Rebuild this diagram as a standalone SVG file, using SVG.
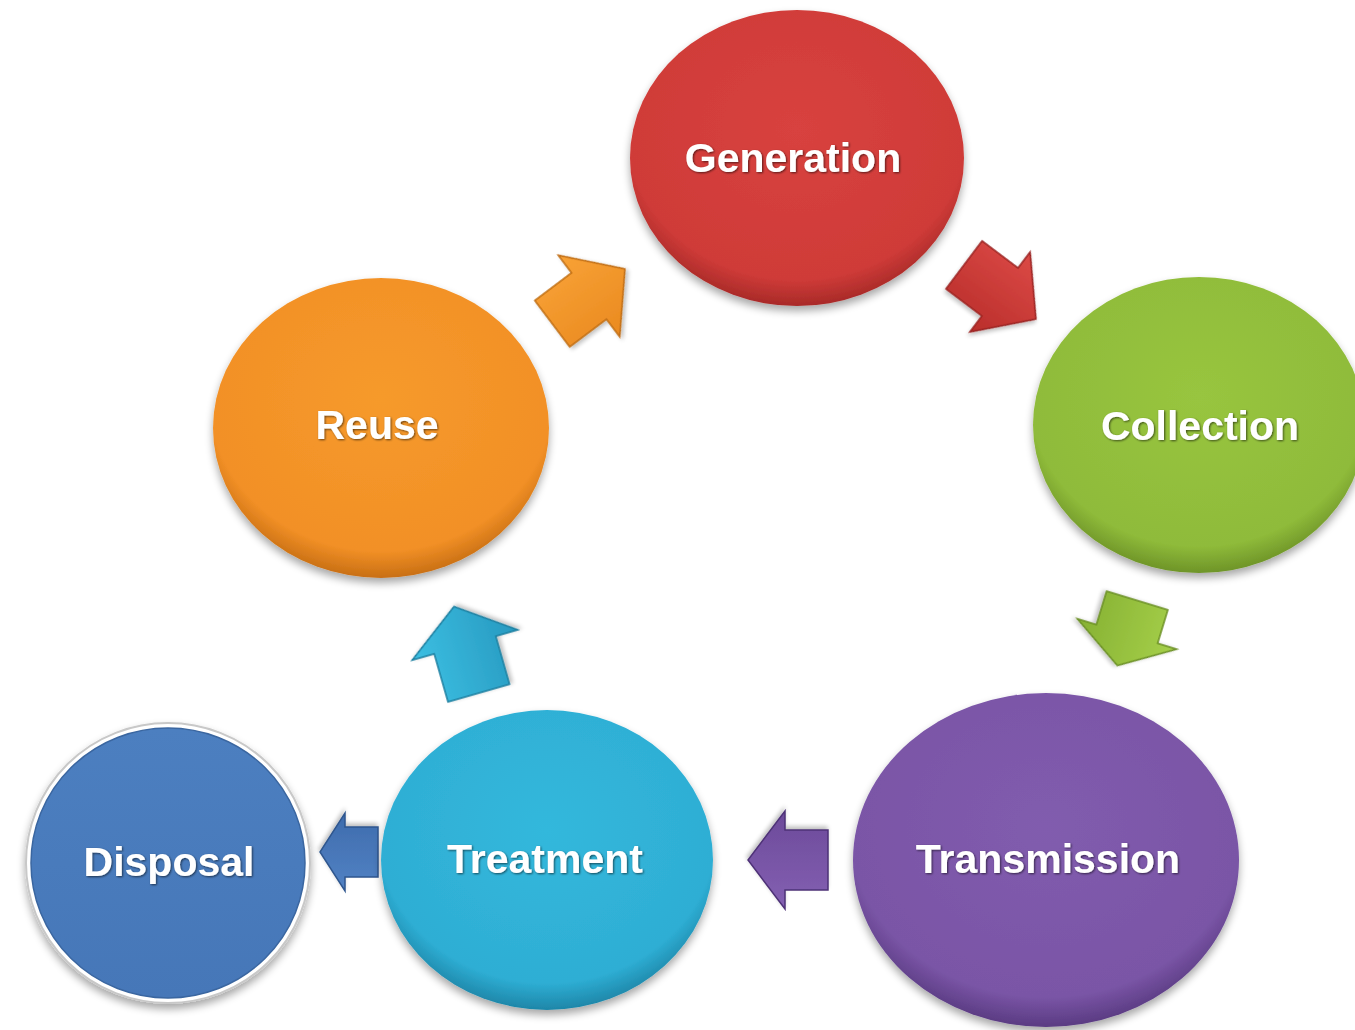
<svg xmlns="http://www.w3.org/2000/svg" width="1355" height="1030" viewBox="0 0 1355 1030">
  <defs>
    <style>
      .lbl { font-family: "Liberation Sans", Arial, sans-serif; font-weight: bold; font-size: 41px; fill: #ffffff; text-anchor: middle; filter: url(#txtShadow); }
      .disc { filter: url(#discShadow); }
      .arrow { stroke-width: 1.5; stroke-linejoin: miter; filter: url(#arrowShadow); }
    </style>
    <filter id="discShadow" x="-10%" y="-10%" width="120%" height="125%">
      <feGaussianBlur in="SourceAlpha" stdDeviation="4"/>
      <feOffset dx="0" dy="5" result="b"/>
      <feComponentTransfer><feFuncA type="linear" slope="0.35"/></feComponentTransfer>
      <feMerge><feMergeNode/><feMergeNode in="SourceGraphic"/></feMerge>
    </filter>
    <filter id="arrowShadow" x="-20%" y="-20%" width="140%" height="140%">
      <feGaussianBlur in="SourceAlpha" stdDeviation="2"/>
      <feOffset dx="1" dy="3"/>
      <feComponentTransfer><feFuncA type="linear" slope="0.25"/></feComponentTransfer>
      <feMerge><feMergeNode/><feMergeNode in="SourceGraphic"/></feMerge>
    </filter>
    <filter id="txtShadow" x="-10%" y="-30%" width="120%" height="160%">
      <feGaussianBlur in="SourceAlpha" stdDeviation="1.2"/>
      <feOffset dx="1" dy="1"/>
      <feComponentTransfer><feFuncA type="linear" slope="0.6"/></feComponentTransfer>
      <feMerge><feMergeNode/><feMergeNode in="SourceGraphic"/></feMerge>
    </filter>
    <radialGradient id="gRed" cx="50%" cy="40%" r="60%">
      <stop offset="0" stop-color="#d8423f"/><stop offset="0.85" stop-color="#cf3b38"/><stop offset="1" stop-color="#a82a28"/>
    </radialGradient>
    <radialGradient id="gGreen" cx="50%" cy="40%" r="60%">
      <stop offset="0" stop-color="#98c53f"/><stop offset="0.85" stop-color="#8fbb3a"/><stop offset="1" stop-color="#6e9428"/>
    </radialGradient>
    <radialGradient id="gPurple" cx="50%" cy="40%" r="60%">
      <stop offset="0" stop-color="#815cae"/><stop offset="0.85" stop-color="#7a55a6"/><stop offset="1" stop-color="#5a3b82"/>
    </radialGradient>
    <radialGradient id="gTeal" cx="50%" cy="40%" r="60%">
      <stop offset="0" stop-color="#33b8dc"/><stop offset="0.85" stop-color="#2eaed4"/><stop offset="1" stop-color="#1e86a8"/>
    </radialGradient>
    <radialGradient id="gOrange" cx="50%" cy="40%" r="60%">
      <stop offset="0" stop-color="#f69a2c"/><stop offset="0.85" stop-color="#f29026"/><stop offset="1" stop-color="#c86f14"/>
    </radialGradient>
    <linearGradient id="gBlue" x1="0" y1="0" x2="0" y2="1">
      <stop offset="0" stop-color="#4c7fc0"/><stop offset="1" stop-color="#4677b8"/>
    </linearGradient>
    <linearGradient id="aRed" x1="0" y1="0" x2="0" y2="1">
      <stop offset="0" stop-color="#dc4a46"/><stop offset="1" stop-color="#b92e2b"/>
    </linearGradient>
    <linearGradient id="aGreen" x1="0" y1="0" x2="0" y2="1">
      <stop offset="0" stop-color="#a6d04a"/><stop offset="1" stop-color="#86b133"/>
    </linearGradient>
    <linearGradient id="aPurple" x1="0" y1="0" x2="0" y2="1">
      <stop offset="0" stop-color="#8460b2"/><stop offset="1" stop-color="#6c4a9a"/>
    </linearGradient>
    <linearGradient id="aBlue" x1="0" y1="0" x2="0" y2="1">
      <stop offset="0" stop-color="#5282c4"/><stop offset="1" stop-color="#3e6cad"/>
    </linearGradient>
    <linearGradient id="aTeal" x1="0" y1="0" x2="0" y2="1">
      <stop offset="0" stop-color="#3cbfe2"/><stop offset="1" stop-color="#2799c0"/>
    </linearGradient>
    <linearGradient id="aOrange" x1="0" y1="0" x2="0" y2="1">
      <stop offset="0" stop-color="#f8a236"/><stop offset="1" stop-color="#ea8a20"/>
    </linearGradient>
  </defs>

  <rect width="1355" height="1030" fill="#ffffff"/>

  <!-- block arrows between the stages -->
  <g id="connectors">
    <!-- Generation -> Collection -->
    <path class="arrow" transform="translate(1000,292) rotate(37)" d="M -45,-30 L 0,-30 L 0,-50 L 45,0 L 0,50 L 0,30 L -45,30 Z" fill="url(#aRed)" stroke="#9a2220"/>
    <!-- Collection -> Transmission -->
    <path class="arrow" transform="translate(1127,634) rotate(107)" d="M -35,-32 L 0,-32 L 0,-52 L 33,0 L 0,52 L 0,32 L -35,32 Z" fill="url(#aGreen)" stroke="#6a8f25"/>
    <!-- Transmission -> Treatment -->
    <path class="arrow" transform="translate(785,860) rotate(180)" d="M -43,-30 L 0,-30 L 0,-49 L 37,0 L 0,49 L 0,30 L -43,30 Z" fill="url(#aPurple)" stroke="#4e3277"/>
    <!-- Treatment -> Disposal -->
    <path class="arrow" transform="translate(345,852) rotate(180)" d="M -33,-25 L 0,-25 L 0,-39 L 25,0 L 0,39 L 0,25 L -33,25 Z" fill="url(#aBlue)" stroke="#2f568e"/>
    <!-- Treatment -> Reuse -->
    <path class="arrow" transform="translate(465,645) rotate(-106)" d="M -50,-32 L 0,-32 L 0,-55 L 40,0 L 0,55 L 0,32 L -50,32 Z" fill="url(#aTeal)" stroke="#1c7fa0"/>
    <!-- Reuse -> Generation -->
    <path class="arrow" transform="translate(589,296) rotate(-37)" d="M -46,-29 L 0,-29 L 0,-51 L 45,0 L 0,51 L 0,29 L -46,29 Z" fill="url(#aOrange)" stroke="#c06c12"/>
  </g>

  <g id="node-generation">
    <ellipse class="disc" cx="797" cy="158" rx="167" ry="148" fill="url(#gRed)"/>
    <text class="lbl" x="793" y="172">Generation</text>
  </g>

  <g id="node-collection">
    <ellipse class="disc" cx="1199" cy="425" rx="166" ry="148" fill="url(#gGreen)"/>
    <text class="lbl" x="1200" y="440">Collection</text>
  </g>

  <g id="node-transmission">
    <ellipse class="disc" cx="1046" cy="860" rx="193" ry="167" fill="url(#gPurple)"/>
    <text class="lbl" x="1048" y="873">Transmission</text>
  </g>

  <g id="node-treatment">
    <ellipse class="disc" cx="547" cy="860" rx="166" ry="150" fill="url(#gTeal)"/>
    <text class="lbl" x="545" y="873">Treatment</text>
  </g>

  <g id="node-reuse">
    <ellipse class="disc" cx="381" cy="428" rx="168" ry="150" fill="url(#gOrange)"/>
    <text class="lbl" x="377" y="439">Reuse</text>
  </g>

  <g id="node-disposal">
    <ellipse cx="168" cy="863" rx="142" ry="140" fill="#ffffff" stroke="#c8c8c8" stroke-width="2" filter="url(#discShadow)"/>
    <ellipse cx="168" cy="863" rx="137" ry="135" fill="url(#gBlue)" stroke="#3a66a0" stroke-width="1.5"/>
    <text class="lbl" x="169" y="876">Disposal</text>
  </g>
</svg>
